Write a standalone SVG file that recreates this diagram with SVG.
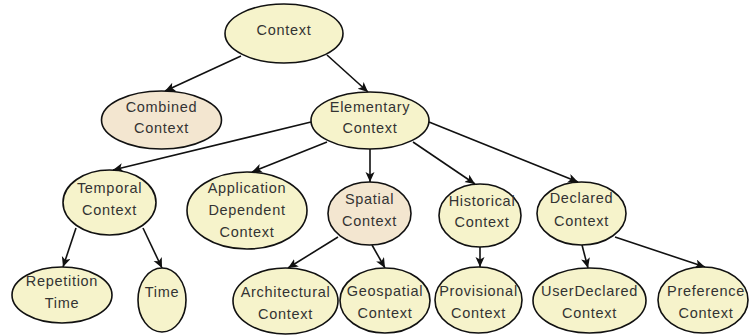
<svg xmlns="http://www.w3.org/2000/svg" width="749" height="335" viewBox="0 0 749 335">
<style>
.n ellipse{fill:#F6F3CB;stroke:#111;stroke-width:1.6}
.n.b ellipse{fill:#F3E6D0}
.n text{font-family:"Liberation Sans",Arial,sans-serif;font-size:14.5px;letter-spacing:0.7px;fill:#333;text-anchor:middle}
.e line{stroke:#111;stroke-width:1.6;marker-end:url(#ah)}
</style>
<defs>
<marker id="ah" markerUnits="userSpaceOnUse" markerWidth="11" markerHeight="10" refX="10" refY="4.5" orient="auto">
<path d="M0,0 L10,4.5 L0,9 L2.5,4.5 z" fill="#111"/>
</marker>
</defs>
<rect width="749" height="335" fill="#fff"/>
<g class="e" id="connectors">
<line x1="241" y1="56" x2="165" y2="91"/>
<line x1="327" y1="55" x2="368" y2="92"/>
<line x1="311" y1="122" x2="113" y2="170"/>
<line x1="327" y1="142" x2="252" y2="172"/>
<line x1="370" y1="149" x2="370" y2="182"/>
<line x1="413" y1="142" x2="475" y2="184"/>
<line x1="429" y1="122" x2="578" y2="182"/>
<line x1="76" y1="228" x2="63" y2="267"/>
<line x1="143" y1="228" x2="162" y2="268"/>
<line x1="338" y1="237" x2="288" y2="268"/>
<line x1="372" y1="245" x2="385" y2="268"/>
<line x1="480" y1="247" x2="480" y2="267"/>
<line x1="582" y1="245" x2="588" y2="268"/>
<line x1="615" y1="237" x2="705" y2="267"/>
</g>
<g class="n" id="context"><ellipse cx="284" cy="33.5" rx="59" ry="29.5"/><text x="284" y="35">Context</text></g>
<g class="n b" id="combined"><ellipse cx="161.5" cy="120" rx="60" ry="29"/><text x="161.5" y="112">Combined</text><text x="161.5" y="133">Context</text></g>
<g class="n" id="elementary"><ellipse cx="370" cy="120.5" rx="59" ry="28.5"/><text x="370" y="112">Elementary</text><text x="370" y="133">Context</text></g>
<g class="n" id="temporal"><ellipse cx="109.5" cy="202.5" rx="46.5" ry="32.5"/><text x="109.5" y="193">Temporal</text><text x="109.5" y="215">Context</text></g>
<g class="n" id="application"><ellipse cx="247" cy="210.5" rx="60" ry="38.5"/><text x="247" y="193">Application</text><text x="247" y="215">Dependent</text><text x="247" y="237">Context</text></g>
<g class="n b" id="spatial"><ellipse cx="369.5" cy="213.5" rx="41.5" ry="31.5"/><text x="369.5" y="204">Spatial</text><text x="369.5" y="226">Context</text></g>
<g class="n" id="historical"><ellipse cx="480" cy="215.5" rx="41" ry="31.5"/><text x="482" y="206">Historical</text><text x="482" y="227">Context</text></g>
<g class="n" id="declared"><ellipse cx="581.5" cy="213.5" rx="44.5" ry="31.5"/><text x="581.5" y="203">Declared</text><text x="581.5" y="226">Context</text></g>
<g class="n" id="repetition"><ellipse cx="62" cy="295" rx="50" ry="28"/><text x="62" y="286">Repetition</text><text x="62" y="308">Time</text></g>
<g class="n" id="time"><ellipse cx="162" cy="300" rx="24" ry="32"/><text x="162" y="297">Time</text></g>
<g class="n" id="architectural"><ellipse cx="285.5" cy="301" rx="52.5" ry="33"/><text x="285.5" y="297">Architectural</text><text x="285.5" y="319">Context</text></g>
<g class="n" id="geospatial"><ellipse cx="385" cy="300.5" rx="45" ry="32.5"/><text x="385" y="296">Geospatial</text><text x="385" y="318">Context</text></g>
<g class="n" id="provisional"><ellipse cx="478.5" cy="300" rx="43.5" ry="33"/><text x="478.5" y="296">Provisional</text><text x="478.5" y="318">Context</text></g>
<g class="n" id="userdeclared"><ellipse cx="589.5" cy="300.5" rx="56.5" ry="32.5"/><text x="589.5" y="296">UserDeclared</text><text x="589.5" y="318">Context</text></g>
<g class="n" id="preference"><ellipse cx="703" cy="300" rx="45" ry="33"/><text x="706" y="296">Preference</text><text x="706" y="318">Context</text></g>
</svg>
